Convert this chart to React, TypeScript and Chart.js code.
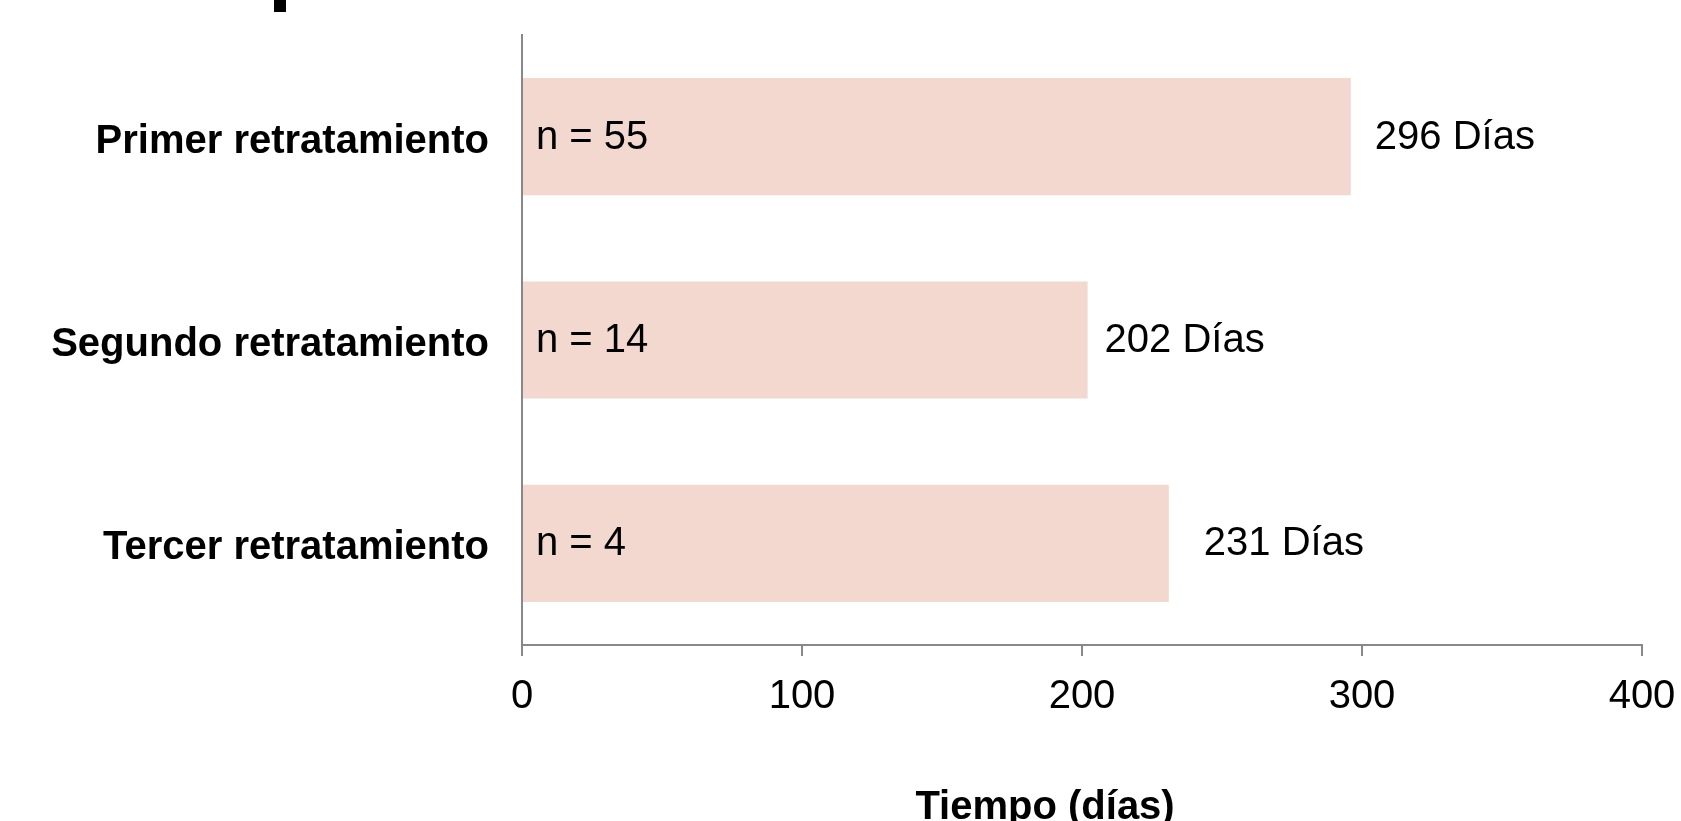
import { useEffect, useRef } from 'react';
import { Chart, registerables } from 'chart.js';

Chart.register(...registerables);

const categories = ['Primer retratamiento', 'Segundo retratamiento', 'Tercer retratamiento'];
const days = [296, 202, 231];
const counts = [55, 14, 4];
const xTicks = [0, 100, 200, 300, 400];
const valueLabelGaps = [24, 17, 35];

const FONT = '"Liberation Sans", Arial, Helvetica, sans-serif';
const BAR_COLOR = '#F2D8CF';
const AXIS_COLOR = '#888888';

export default function App() {
  const ref = useRef<HTMLCanvasElement | null>(null);

  useEffect(() => {
    const canvas = ref.current;
    if (!canvas) return;

    const labelPlugin = {
      id: 'labelPlugin',
      afterDatasetsDraw(chart: any) {
        const ctx = chart.ctx;
        const meta = chart.getDatasetMeta(0);
        ctx.save();
        ctx.font = `40px ${FONT}`;
        ctx.fillStyle = '#000';
        ctx.textBaseline = 'middle';
        ctx.textAlign = 'left';
        meta.data.forEach((el: any, i: number) => {
          ctx.fillText(`n = ${counts[i]}`, chart.chartArea.left + 14, el.y + 1);
          ctx.fillText(`${days[i]} Días`, el.x + valueLabelGaps[i], el.y + 1);
        });
        ctx.restore();
      },
      afterDraw(chart: any) {
        const ctx = chart.ctx;
        const ca = chart.chartArea;
        ctx.save();
        ctx.font = `bold 40px ${FONT}`;
        ctx.fillStyle = '#000';
        ctx.textAlign = 'center';
        ctx.textBaseline = 'alphabetic';
        ctx.fillText('Tiempo (días)', ca.left + (ca.right - ca.left) * 0.467, ca.bottom + 174);
        // clipped fragment of a title glyph at the top edge
        ctx.fillRect(274, 0, 12, 12);
        ctx.restore();
      },
    };

    const chart = new Chart(canvas, {
      type: 'bar',
      data: {
        labels: categories,
        datasets: [
          {
            data: days,
            backgroundColor: BAR_COLOR,
            borderWidth: 0,
            barPercentage: 0.576,
            categoryPercentage: 1,
          },
        ],
      },
      options: {
        indexAxis: 'y',
        responsive: false,
        animation: false,
        layout: { padding: { top: 35, right: 39, left: 0, bottom: 0 } },
        plugins: {
          legend: { display: false },
          tooltip: { enabled: false },
          title: { display: false },
        },
        scales: {
          x: {
            type: 'linear',
            min: 0,
            max: 400,
            afterBuildTicks(scale: any) {
              scale.ticks = xTicks.map((v) => ({ value: v }));
            },
            ticks: {
              font: { family: FONT, size: 40 },
              color: '#000',
              padding: 17,
              maxRotation: 0,
            },
            grid: {
              drawOnChartArea: false,
              drawTicks: true,
              tickLength: 11,
              color: AXIS_COLOR,
              lineWidth: 2,
            },
            border: { display: true, color: AXIS_COLOR, width: 2 },
            afterFit(scale: any) {
              scale.height = 176;
              scale.paddingLeft = 0;
              scale.paddingRight = 0;
            },
          },
          y: {
            type: 'category',
            grid: { display: false },
            border: { display: true, color: AXIS_COLOR, width: 2 },
            ticks: {
              font: { family: FONT, size: 40, weight: 'bold' },
              color: '#000',
              padding: 25,
              labelOffset: 5,
            },
            afterFit(scale: any) {
              scale.width = 522;
              scale.paddingTop = 0;
              scale.paddingBottom = 0;
            },
          },
        },
      },
      plugins: [labelPlugin],
    });

    return () => {
      chart.destroy();
    };
  }, []);

  return (
    <div style={{ position: 'fixed', left: 0, top: 0, width: 1681, height: 821, background: '#fff' }}>
      <canvas ref={ref} width={1681} height={821} style={{ display: 'block' }} />
    </div>
  );
}
